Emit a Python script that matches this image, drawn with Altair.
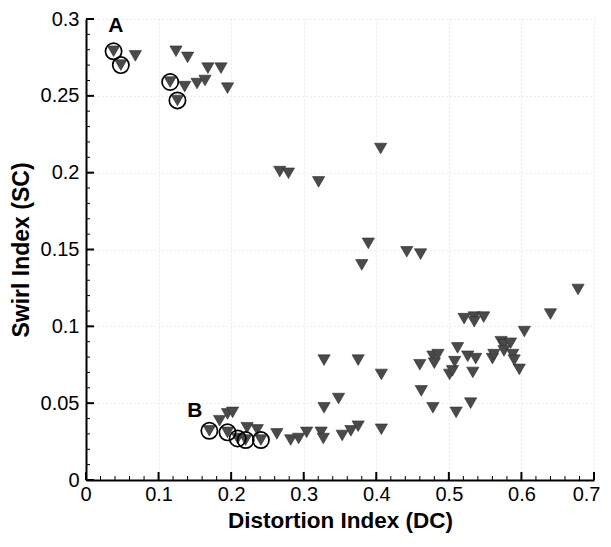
import altair as alt
import pandas as pd

# ---- data ----
dc_values = [
    0.038, 0.048, 0.068, 0.124, 0.140, 0.168, 0.186, 0.195, 0.116, 0.136, 0.153, 0.164, 0.126,
    0.406, 0.267, 0.279, 0.3205, 0.389, 0.380, 0.442, 0.461,
    0.170, 0.195, 0.209, 0.220, 0.241, 0.195, 0.202, 0.184, 0.222, 0.236, 0.263, 0.282, 0.293, 0.304,
    0.324, 0.327, 0.353, 0.365, 0.375, 0.407, 0.328, 0.348, 0.328, 0.375, 0.407,
    0.460, 0.478, 0.485, 0.480, 0.501, 0.505, 0.508, 0.462, 0.478, 0.510, 0.530,
    0.521, 0.535, 0.548, 0.535, 0.512, 0.526, 0.537, 0.533, 0.560, 0.562, 0.572, 0.576,
    0.585, 0.576, 0.588, 0.590, 0.597, 0.604, 0.640, 0.678,
]
sc_values = [
    0.279, 0.270, 0.276, 0.279, 0.275, 0.268, 0.268, 0.255, 0.259, 0.256, 0.258, 0.260, 0.247,
    0.2157, 0.2007, 0.1996, 0.194, 0.154, 0.140, 0.1485, 0.147,
    0.032, 0.031, 0.027, 0.026, 0.026, 0.043, 0.044, 0.0386, 0.034, 0.0326, 0.030, 0.026, 0.027, 0.031,
    0.031, 0.027, 0.029, 0.032, 0.035, 0.033, 0.047, 0.053, 0.078, 0.078, 0.0687,
    0.075, 0.0805, 0.0816, 0.076, 0.0687, 0.071, 0.077, 0.058, 0.047, 0.044, 0.050,
    0.105, 0.106, 0.106, 0.103, 0.086, 0.0805, 0.079, 0.070, 0.079, 0.0816, 0.090, 0.088,
    0.089, 0.084, 0.0816, 0.078, 0.072, 0.0966, 0.108, 0.124,
]
circled_dc = [0.038, 0.048, 0.116, 0.126, 0.170, 0.195, 0.209, 0.220, 0.241]
circled_sc = [0.279, 0.270, 0.259, 0.247, 0.032, 0.031, 0.027, 0.026, 0.026]

label_text = ["A", "B"]
label_dc = [0.041, 0.150]
label_sc = [0.2955, 0.045]

x_major = [0, 0.1, 0.2, 0.3, 0.4, 0.5, 0.6, 0.7]
x_minor = [round(i * 0.02, 2) for i in range(36)]
y_major = [0, 0.05, 0.1, 0.15, 0.2, 0.25, 0.3]
y_minor = [round(i * 0.01, 2) for i in range(31)]

pts = pd.DataFrame({"dc": dc_values, "sc": sc_values})
circ = pd.DataFrame({"dc": circled_dc, "sc": circled_sc})
labs = pd.DataFrame({"t": label_text, "dc": label_dc, "sc": label_sc})
xmaj_df = pd.DataFrame({"dc": x_major, "sc": [0.0] * len(x_major)})
xmin_df = pd.DataFrame({"dc": x_minor, "sc": [0.0] * len(x_minor)})
ymaj_df = pd.DataFrame({"dc": [0.0] * len(y_major), "sc": y_major})
ymin_df = pd.DataFrame({"dc": [0.0] * len(y_minor), "sc": y_minor})

W, H = 508, 461
FONT = "Liberation Sans"
xs = alt.Scale(domain=[0, 0.7], nice=False, zero=False)
ys = alt.Scale(domain=[0, 0.3], nice=False, zero=False)

x_axis = alt.Axis(
    orient="bottom", values=x_major, domain=True, domainColor="black", domainWidth=2,
    ticks=False, grid=True, gridColor="#dadada", gridDash=[1, 3], gridWidth=1,
    format="~g", labelFont=FONT, labelFontSize=20, labelColor="black", labelPadding=4,
    labelFlush=True, labelFlushOffset=6, labelOverlap=False,
    title="Distortion Index (DC)", titleFont=FONT, titleFontSize=22.5,
    titleFontWeight="bold", titleColor="black", titlePadding=5)
y_axis = alt.Axis(
    orient="left", values=y_major, domain=True, domainColor="black", domainWidth=2,
    ticks=False, grid=True, gridColor="#dadada", gridDash=[1, 3], gridWidth=1,
    format="~g", labelFont=FONT, labelFontSize=20, labelColor="black", labelPadding=7,
    labelFlush=False, labelOverlap=False,
    title="Swirl Index (SC)", titleFont=FONT, titleFontSize=23,
    titleFontWeight="bold", titleColor="black", titlePadding=7)

X = alt.X("dc:Q", scale=xs, axis=x_axis)
Y = alt.Y("sc:Q", scale=ys, axis=y_axis)

tri = alt.Chart(pts).mark_point(
    shape="triangle-down", filled=True, size=150, color="#4a4a4a",
    stroke="#2e2e2e", strokeWidth=0.6, opacity=1
).encode(x=X, y=Y)


def tick_layer(df, path, size, width):
    # inward tick marks: a short line symbol anchored on the axis at each tick value
    return alt.Chart(df).mark_point(
        shape=path, filled=False, size=size, color="black", strokeWidth=width,
        opacity=1, strokeCap="butt"
    ).encode(x=X, y=Y)


xmaj = tick_layer(xmaj_df, "M0,0L0,-2", 64, 2)
xmin = tick_layer(xmin_df, "M0,0L0,-2", 16, 1)
ymaj = tick_layer(ymaj_df, "M0,0L2,0", 64, 2)
ymin = tick_layer(ymin_df, "M0,0L2,0", 16, 1)

ring = alt.Chart(circ).mark_point(
    shape="circle", filled=False, size=265, color="black", strokeWidth=1.7, opacity=1
).encode(x=X, y=Y)

txt = alt.Chart(labs).mark_text(
    font=FONT, fontSize=21, fontWeight="bold", color="black", align="center", baseline="middle"
).encode(x=X, y=Y, text="t:N")

chart = alt.layer(tri, xmin, ymin, xmaj, ymaj, ring, txt).properties(
    width=W, height=H, background="white",
    autosize=alt.AutoSizeParams(type="none"),
    padding={"left": 78, "top": 11, "right": 9, "bottom": 55},
).configure_view(stroke=None)

chart.save("out.html", embed_options={"renderer": "svg", "actions": False})
